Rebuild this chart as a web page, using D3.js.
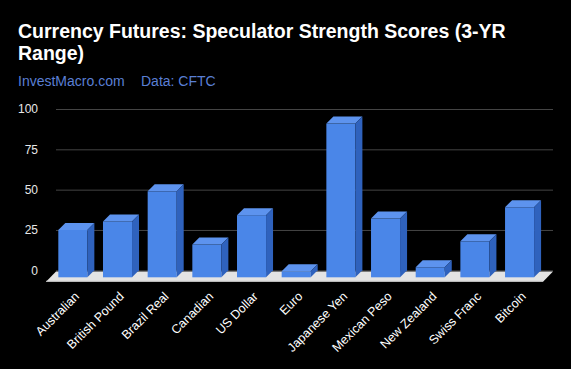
<!DOCTYPE html>
<html>
<head>
<meta charset="utf-8">
<script src="https://cdn.jsdelivr.net/npm/d3@7"></script>
<style>
    body { margin: 0; background: #000; }
    svg { display: block; }
</style>
</head>
<body>
<div id="chart-area"></div>
<script>
const categories = ["Australian", "British Pound", "Brazil Real", "Canadian", "US Dollar", "Euro",
    "Japanese Yen", "Mexican Peso", "New Zealand", "Swiss Franc", "Bitcoin"];
const scores = [29.4, 34.6, 53.3, 20.3, 38.5, 3.7, 95.3, 36.4, 6.2, 22.3, 43.4];
const yTicks = [0, 25, 50, 75, 100];

const width = 571;
const height = 369;
const depth = 7;

const svg = d3
    .select("#chart-area")
    .append("svg")
    .attr("width", width)
    .attr("height", height)
    .style("background", "#000");

//Scales
const xScale = d3.scaleBand()
    .domain(categories)
    .range([50.5, 541.9])
    .paddingInner(0.35)
    .paddingOuter(0.175);
const yScale = d3.scaleLinear().domain([0, 100]).range([270.3, 109]);

// Titles
svg.append("text")
    .attr("x", 18)
    .attr("y", 38)
    .attr("fill", "#fff")
    .attr("font-family", "Arial, 'Liberation Sans', sans-serif")
    .attr("font-weight", "bold")
    .attr("font-size", "19.5px")
    .text("Currency Futures: Speculator Strength Scores (3-YR");
svg.append("text")
    .attr("x", 18)
    .attr("y", 60)
    .attr("fill", "#fff")
    .attr("font-family", "Arial, 'Liberation Sans', sans-serif")
    .attr("font-weight", "bold")
    .attr("font-size", "19.5px")
    .text("Range)");
const sub = svg.append("text")
    .attr("y", 86)
    .attr("fill", "#5a7fd4")
    .attr("font-family", "Arial, 'Liberation Sans', sans-serif")
    .attr("font-size", "14px");
sub.append("tspan").attr("x", 18).text("InvestMacro.com");
sub.append("tspan").attr("x", 141).text("Data: CFTC");

// Gridlines + y labels
const yAxis = d3.axisLeft(yScale).tickValues(yTicks).tickSize(-(553 - 56)).tickPadding(18);
const yg = svg.append("g")
    .attr("transform", "translate(56, 0)")
    .call(yAxis);
yg.select(".domain").remove();
yg.selectAll(".tick line").attr("stroke", "#444");
yg.selectAll(".tick text")
    .attr("fill", "#e8e8e8")
    .attr("font-family", "Arial, 'Liberation Sans', sans-serif")
    .attr("font-size", "12px");

// Floor
const y0 = yScale(0);
svg.append("polygon")
    .attr("points", [[56, y0 + 1.2], [553, y0 + 1.2], [543, y0 + 11.4], [46, y0 + 11.4]].join(" "))
    .attr("fill", "#e4e4e4");
svg.append("line")
    .attr("x1", 46).attr("x2", 543)
    .attr("y1", y0 + 11).attr("y2", y0 + 11)
    .attr("stroke", "#bdbdbd");

// Bars
const bw = xScale.bandwidth();
const bars = svg.selectAll(".bar")
    .data(categories.map((c, i) => ({ c: c, v: scores[i] })))
    .enter()
    .append("g")
    .attr("class", "bar");

bars.append("rect")
    .attr("x", (d) => xScale(d.c))
    .attr("y", (d) => yScale(d.v) + depth)
    .attr("width", bw)
    .attr("height", (d) => y0 - yScale(d.v))
    .attr("fill", "#4a86e8");

bars.append("polygon")
    .attr("points", (d) => {
        const x = xScale(d.c), y = yScale(d.v);
        return [[x, y + depth], [x + depth, y], [x + bw + depth, y], [x + bw, y + depth]].join(" ");
    })
    .attr("fill", "#5d93ee");

bars.append("polygon")
    .attr("points", (d) => {
        const x = xScale(d.c), y = yScale(d.v);
        return [[x + bw, y + depth], [x + bw + depth, y], [x + bw + depth, y0], [x + bw, y0 + depth]].join(" ");
    })
    .attr("fill", "#2f62bd");

// x labels
svg.selectAll(".x-label")
    .data(categories)
    .enter()
    .append("text")
    .attr("class", "x-label")
    .attr("transform", (d) => `translate(${xScale(d) + bw / 2 + 1}, 291) rotate(-45)`)
    .attr("text-anchor", "end")
    .attr("dy", "0.7em")
    .attr("fill", "#fff")
    .attr("font-family", "Arial, 'Liberation Sans', sans-serif")
    .attr("font-size", "12.5px")
    .text((d) => d);
</script>
</body>
</html>
